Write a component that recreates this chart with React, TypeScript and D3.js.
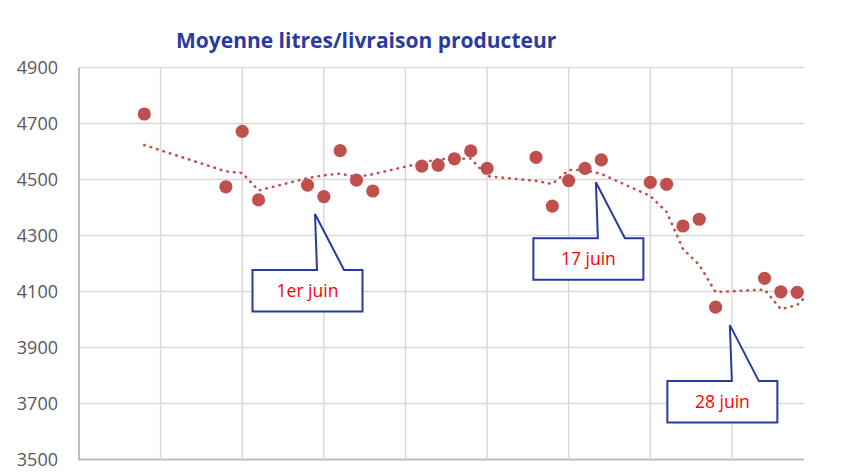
import React from 'react';
import * as d3 from 'd3';

// Daily average litres per delivery (weekdays only)
const deliveryDates = [
  '2025-05-23', '2025-05-28', '2025-05-29', '2025-05-30',
  '2025-06-02', '2025-06-03', '2025-06-04', '2025-06-05', '2025-06-06',
  '2025-06-09', '2025-06-10', '2025-06-11', '2025-06-12', '2025-06-13',
  '2025-06-16', '2025-06-17', '2025-06-18', '2025-06-19', '2025-06-20',
  '2025-06-23', '2025-06-24', '2025-06-25', '2025-06-26', '2025-06-27',
  '2025-06-30', '2025-07-01', '2025-07-02',
];
const litres = [
  4734, 4474, 4672, 4427,
  4480, 4439, 4603, 4498, 4459,
  4548, 4551, 4574, 4602, 4540,
  4579, 4405, 4496, 4540, 4570,
  4490, 4483, 4334, 4358, 4044,
  4147, 4099, 4097,
];

// Dotted trend (runs past the right edge, clipped)
const trendDates = [...deliveryDates, '2025-07-03'];
const trendValues = [
  4623, 4529, 4523, 4461,
  4505, 4515, 4521, 4509, 4519,
  4559, 4573, 4573, 4575, 4512,
  4495, 4484, 4534, 4534, 4520,
  4441, 4384, 4252, 4195, 4098,
  4107, 4037, 4052, 4110,
];

const yTicks = [3500, 3700, 3900, 4100, 4300, 4500, 4700, 4900];

const callouts = [
  { label: '1er juin', tip: '2025-06-02T11:00', value: 4377 },
  { label: '17 juin', tip: '2025-06-19T16:00', value: 4490 },
  { label: '28 juin', tip: '2025-06-27T21:00', value: 3980 },
];

const title = 'Moyenne litres/livraison producteur';

const parseDay = d3.utcParse('%Y-%m-%d');
const parseTime = d3.utcParse('%Y-%m-%dT%H:%M');

const W = 841;
const H = 475;
const margin = { top: 67.5, right: 37, bottom: 15.5, left: 79 };
const red = '#C0504D';
const blue = '#2B3A9E';
const font = '"Open Sans", "Segoe UI", sans-serif';

export default function App() {
  const xStart = parseDay('2025-05-19')!;
  const xEnd = parseTime('2025-07-02T10:00')!;

  const x = d3.scaleUtc()
    .domain([xStart, xEnd])
    .range([margin.left, W - margin.right]);

  const y = d3.scaleLinear()
    .domain([3500, 4900])
    .range([H - margin.bottom, margin.top]);

  // vertical gridlines every 5 days
  const vGrid = d3.utcDay.range(d3.utcDay.offset(xStart, 5), xEnd, 5);

  const points = deliveryDates.map((d, i) => ({ date: parseDay(d)!, value: litres[i] }));
  const trend = trendDates.map((d, i) => ({ date: parseDay(d)!, value: trendValues[i] }));

  const trendLine = d3.line<{ date: Date; value: number }>()
    .x(d => x(d.date))
    .y(d => y(d.value));

  const [x0, x1] = x.range();
  const [yBottom, yTop] = y.range();

  return (
    <svg
      width={W}
      height={H}
      style={{ position: 'absolute', left: 0, top: 0, background: '#fff' }}
    >
      <defs>
        <clipPath id="plot-clip">
          <rect x={x0} y={yTop - 10} width={x1 - x0} height={yBottom - yTop + 20} />
        </clipPath>
      </defs>

      {/* Title */}
      <text
        x={176}
        y={48}
        fill={blue}
        fontFamily={font}
        fontWeight={700}
        fontSize={21}
      >
        {title}
      </text>

      {/* horizontal gridlines */}
      {yTicks.map(t => (
        <line
          key={'h' + t}
          x1={x0}
          x2={x1}
          y1={y(t)}
          y2={y(t)}
          stroke={t === 3500 ? '#BFBFBF' : '#D9D9D9'}
          strokeWidth={t === 3500 ? 2 : 1.5}
        />
      ))}
      {vGrid.map(d => (
        <line
          key={'v' + d.getTime()}
          x1={x(d)}
          x2={x(d)}
          y1={yTop}
          y2={yBottom}
          stroke="#D9D9D9"
          strokeWidth={1.5}
        />
      ))}
      <line x1={x0} x2={x0} y1={yTop} y2={yBottom + 1} stroke="#BFBFBF" strokeWidth={2} />

      {/* y tick labels */}
      {yTicks.map(t => (
        <text
          key={'l' + t}
          x={58}
          y={y(t)}
          dy="0.35em"
          textAnchor="end"
          fill="#595959"
          fontFamily={font}
          fontSize={18}
        >
          {t}
        </text>
      ))}

      {/* trend */}
      <path
        d={trendLine(trend) || ''}
        fill="none"
        stroke={red}
        strokeWidth={2.6}
        strokeDasharray="0.5 6.2"
        strokeLinecap="round"
        clipPath="url(#plot-clip)"
      />

      {/* points */}
      {points.map((p, i) => (
        <circle key={i} cx={x(p.date)} cy={y(p.value)} r={6.6} fill={red} />
      ))}

      {/* callouts */}
      {callouts.map(c => {
        const tx = x(parseTime(c.tip)!);
        const ty = y(c.value);
        const left = tx - 62.5;
        const right = tx + 47.5;
        const top = ty + 56;
        const bottom = ty + 97.5;
        const path = [
          [left, top], [tx + 2, top], [tx, ty], [tx + 29, top],
          [right, top], [right, bottom], [left, bottom],
        ].map((p, i) => (i ? 'L' : 'M') + p[0] + ',' + p[1]).join('') + 'Z';
        return (
          <g key={c.label}>
            <path d={path} fill="#fff" stroke={blue} strokeWidth={2} strokeLinejoin="miter" />
            <text
              x={(left + right) / 2}
              y={(top + bottom) / 2}
              dy="0.35em"
              textAnchor="middle"
              fill="#FF0000"
              fontFamily={font}
              fontSize={17.5}
            >
              {c.label}
            </text>
          </g>
        );
      })}
    </svg>
  );
}
